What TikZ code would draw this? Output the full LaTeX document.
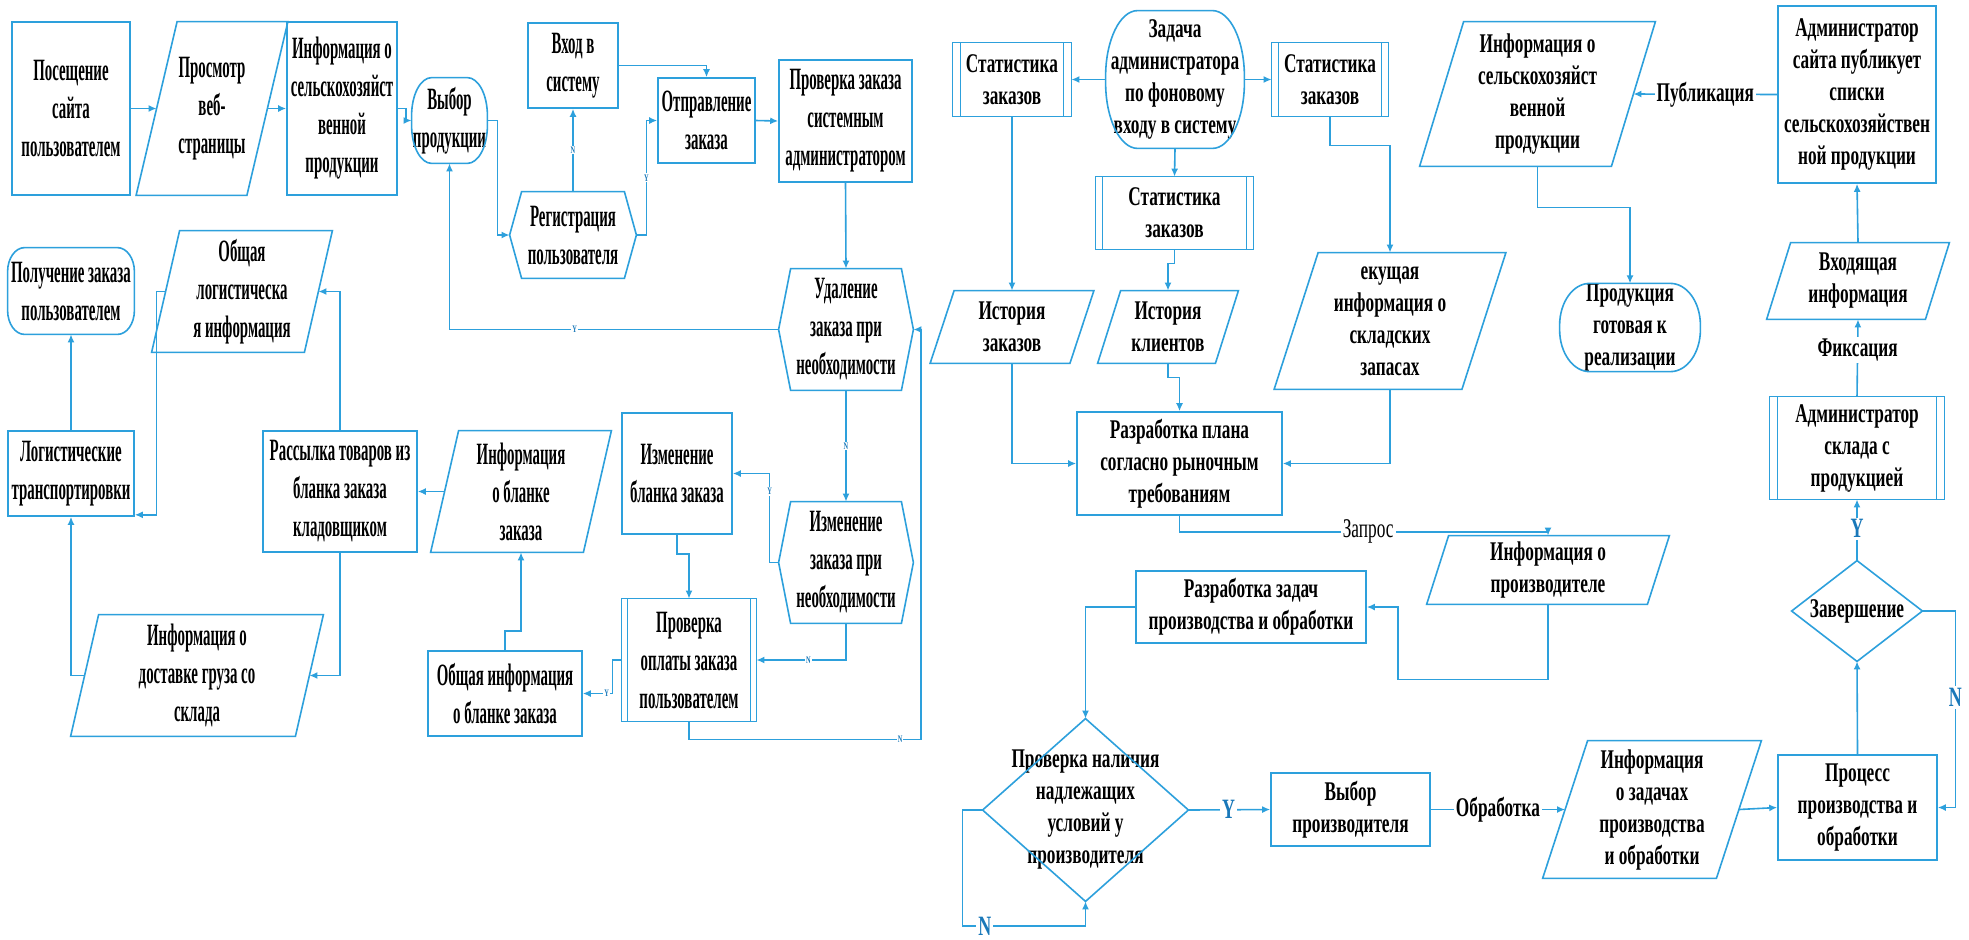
\documentclass[tikz,border=0pt]{standalone}
\usepackage{fontspec}
\setmainfont{Liberation Serif}
\newfontfamily\LF[FakeStretch=0.48]{Liberation Serif}
\newfontfamily\RF[FakeStretch=0.64]{Liberation Serif}
\usetikzlibrary{arrows.meta}
\definecolor{lc}{RGB}{45,160,220}
\definecolor{ynblue}{RGB}{25,120,185}
\tikzset{
  shp/.style={draw=lc, line width=0.8pt},
  bx/.style={draw=lc, line width=0.8pt},
  L/.style={align=center, inner sep=0pt, font=\LF\bfseries\fontsize{15.5}{19}\selectfont},
  R/.style={align=center, inner sep=0pt, font=\RF\bfseries\fontsize{13.5}{16}\selectfont},
  sz/.style 2 args={minimum width=#1*0.5pt, minimum height=#2*0.5pt},
  ar/.style={draw=lc, line width=0.8pt, -{Latex[length=4pt,width=3.5pt]}},
  ln/.style={draw=lc, line width=0.8pt},
  yn/.style={text=ynblue, font=\RF\bfseries\fontsize{14}{14}\selectfont, fill=white, inner sep=1pt},
  yns/.style={text=ynblue, font=\RF\bfseries\fontsize{5}{5}\selectfont, fill=white, inner sep=0.5pt},
  lbl/.style={fill=white, inner sep=1pt, font=\RF\bfseries\fontsize{13.5}{16}\selectfont},
  lblr/.style={fill=white, inner sep=1pt, font=\RF\fontsize{13.5}{16}\selectfont},
}
\newcommand\paraline[2]{\draw[shp] ([xshift=-#2]#1.south west) -- ([xshift=#2]#1.north west) -- ([xshift=#2]#1.north east) -- ([xshift=-#2]#1.south east) -- cycle;}
\newcommand\hexline[2]{\draw[shp] (#1.west) -- ([xshift=#2]#1.north west) -- ([xshift=-#2]#1.north east) -- (#1.east) -- ([xshift=-#2]#1.south east) -- ([xshift=#2]#1.south west) -- cycle;}
\newcommand\subline[2]{\draw[shp] (#1.south west) rectangle (#1.north east); \draw[shp] ([xshift=#2]#1.north west) -- ([xshift=#2]#1.south west) ([xshift=-#2]#1.north east) -- ([xshift=-#2]#1.south east);}
\newcommand\diamline[1]{\draw[shp] (#1.north) -- (#1.east) -- (#1.south) -- (#1.west) -- cycle;}
\newcommand\roundline[3]{\draw[shp] ([xshift=#2]#1.north west) -- ([xshift=-#2]#1.north east) arc[start angle=90,end angle=0,x radius=#2,y radius=#3] -- ([yshift=#3]#1.south east) arc[start angle=0,end angle=-90,x radius=#2,y radius=#3] -- ([xshift=#2]#1.south west) arc[start angle=270,end angle=180,x radius=#2,y radius=#3] -- ([yshift=-#3]#1.north west) arc[start angle=180,end angle=90,x radius=#2,y radius=#3] -- cycle;}
\begin{document}
\begin{tikzpicture}[x=0.5pt, y=-0.5pt]
\fill[white] (0,0) rectangle (1969,939);
\useasboundingbox (0,0) rectangle (1969,939);

% ---------------- left part ----------------
\node[L, bx, sz={118}{173}] (p1) at (71,108.5) {Посещение\\сайта\\пользователем};
\node[L, sz={110}{173}] (p2) at (212,108.5) {Просмотр\\веб-\\страницы};
\paraline{p2}{10.25pt}
\node[L, bx, sz={110}{173}] (p3) at (342,108.5) {Информация о\\сельскохозяйст\\венной\\продукции};
\node[L, sz={75}{85}] (p4) at (449.5,120.5) {Выбор\\продукции};
\roundline{p4}{10pt}{19pt}
\node[L, bx, sz={90}{85}] (p5) at (573,65.5) {Вход в\\систему};
\node[L, sz={126}{86}] (p6) at (573,235) {Регистрация\\пользователя};
\hexline{p6}{6pt}
\node[L, bx, sz={97}{85}] (p7) at (706.5,120.5) {Отправление\\заказа};
\node[L, bx, sz={133}{122}] (p8) at (845.5,121) {Проверка заказа\\системным\\администратором};
\node[L, sz={134}{121}] (p9) at (846,329.5) {Удаление\\заказа при\\необходимости};
\hexline{p9}{6pt}
\node[L, sz={134}{121}] (p10) at (846,562.5) {Изменение\\заказа при\\необходимости};
\hexline{p10}{6pt}
\node[L, bx, sz={110}{121}] (p11) at (677,473.5) {Изменение\\бланка заказа};
\node[L, sz={134}{122}] (p12) at (689,660) {Проверка\\оплаты заказа\\пользователем};
\subline{p12}{3pt}
\node[L, bx, sz={154}{85}] (p13) at (505,693.5) {Общая информация\\о бланке заказа};
\node[L, sz={152}{121}] (p14) at (521,491.5) {Информация\\о бланке\\заказа};
\paraline{p14}{7pt}
\node[L, bx, sz={154}{121}] (p15) at (340,491.5) {Рассылка товаров из\\бланка заказа\\кладовщиком};
\node[L, sz={152}{121}] (p16) at (242,291.5) {Общая\\логистическа\\я информация};
\paraline{p16}{7pt}
\node[L, sz={126}{86}] (p17) at (71,291) {Получение заказа\\пользователем};
\roundline{p17}{8.5pt}{12pt}
\node[L, bx, sz={126}{85}] (p18) at (71,473.5) {Логистические\\транспортировки};
\node[L, sz={224}{121}] (p19) at (197,675.5) {Информация о\\доставке груза со\\склада};
\paraline{p19}{7pt}

% left connectors
\draw[ar] (p1.east) -- (p2.west);
\draw[ar] (p2.east) -- (p3.west);
\draw[ar] (p3.east) -- ++(8,0) |- (p4.west);
\draw[ar] (p4.east) -- ++(10,0) |- (p6.west);
\draw[ar] (p6.north) -- node[yns]{N} (p5.south);
\draw[ar] (p6.east) -- ++(10,0) |- node[yns, pos=0.25]{Y} (p7.west);
\draw[ar] (p5.east) -| (p7.north);
\draw[ar] (p7.east) -- (p8.west);
\draw[ar] (p8.south) -- (p9.north);
\draw[ar] (p9.west) -| node[yns, pos=0.31]{Y} (p4.south);
\draw[ar] (p9.south) -- node[yns]{N} (p10.north);
\draw[ar] (p10.west) -- ++(-9,0) |- node[yns, pos=0.4]{Y} (p11.east);
\draw[ar] (p10.south) |- node[yns, pos=0.71]{N} (p12.east);
\draw[ar] (p11.south) -- ++(0,19) -| (p12.north);
\draw[ar] (p12.west) -- ++(-9,0) |- node[yns, pos=0.6]{Y} (p13.east);
\draw[ar] (p13.north) -- ++(0,-19) -| (p14.south);
\draw[ar] (p14.west) -- (p15.east);
\draw[ar] (p15.north) |- (p16.east);
\draw[ar] (p16.west) -- ++(-9,0) |- ([yshift=1pt]p18.south east);
\draw[ar] (p18.north) -- (p17.south);
\draw[ar] (p15.south) |- (p19.east);
\draw[ar] (p19.west) -| (p18.south);
\draw[ar] (p12.south) -- ++(0,18) -- node[yns, pos=0.91]{N} ++(232,0) |- (p9.east);

% ---------------- right part ----------------
\node[R, sz={118}{73}] (q1) at (1012,79.5) {Статистика\\заказов};
\subline{q1}{4pt}
\node[R, sz={138}{137}] (q2) at (1175,79.5) {Задача\\администратора\\по фоновому\\входу в систему};
\roundline{q2}{16pt}{33pt}
\node[R, sz={116}{73}] (q3) at (1330,79.5) {Статистика\\заказов};
\subline{q3}{3.5pt}
\node[R, sz={157}{72}] (q4) at (1174.5,213) {Статистика\\заказов};
\subline{q4}{3.5pt}
\node[R, sz={139}{72}] (q5) at (1012,327) {История\\заказов};
\paraline{q5}{6pt}
\node[R, sz={117}{72}] (q6) at (1168,327) {История\\клиентов};
\paraline{q6}{5.75pt}
\node[R, sz={187}{136}] (q7) at (1390,321) {екущая\\информация о\\складских\\запасах};
\paraline{q7}{11pt}
\node[R, bx, sz={205}{103}] (q8) at (1179.5,463.5) {Разработка плана\\согласно рыночным\\требованиям};
\node[R, sz={191}{144}] (q9) at (1537.5,94) {Информация о\\сельскохозяйст\\венной\\продукции};
\paraline{q9}{11pt}
\node[R, bx, sz={158}{177}] (q10) at (1857,94.5) {Администратор\\сайта публикует\\списки\\сельскохозяйствен\\ной продукции};
\node[R, sz={140}{87}] (q11) at (1630,327.5) {Продукция\\готовая к\\реализации};
\roundline{q11}{15pt}{21pt}
\node[R, sz={158}{76}] (q12) at (1858,281) {Входящая\\информация};
\paraline{q12}{6pt}
\node[R, sz={174}{102}] (q13) at (1857,448) {Администратор\\склада с\\продукцией};
\subline{q13}{4pt}
\node[R, sz={130}{100}] (q14) at (1857,611) {Завершение};
\diamline{q14}
\node[R, bx, sz={159}{105}] (q15) at (1857.5,807.5) {Процесс\\производства и\\обработки};
\node[R, sz={220}{68}] (q16) at (1548,570) {Информация о\\производителе};
\paraline{q16}{5.5pt}
\node[R, bx, sz={230}{72}] (q17) at (1251,607) {Разработка задач\\производства и обработки};
\node[R, sz={205}{182}] (q18) at (1085.5,810) {Проверка наличия\\надлежащих\\условий у\\производителя};
\diamline{q18}
\node[R, bx, sz={159}{73}] (q19) at (1350.5,809.5) {Выбор\\производителя};
\node[R, sz={173}{137}] (q20) at (1652,809.5) {Информация\\о задачах\\производства\\и обработки};
\paraline{q20}{11.25pt}

% right connectors
\draw[ar] (q2.west) -- (q1.east);
\draw[ar] (q2.east) -- (q3.west);
\draw[ar] (q2.south) -- (q4.north);
\draw[ar] (q1.south) -- (q5.north);
\draw[ar] (q4.south) -- ++(0,14) -| (q6.north);
\draw[ar] (q3.south) -- ++(0,29) -| (q7.north);
\draw[ar] (q5.south) |- (q8.west);
\draw[ar] (q6.south) -- ++(0,14) -| (q8.north);
\draw[ar] (q7.south) |- (q8.east);
\draw[ar] (q8.south) -- ++(0,16) -| node[lblr, pos=0.256]{Запрос} (q16.north);
\draw[ar] (q16.south) -- ++(0,75) -- ++(-150,0) |- (q17.east);
\draw[ar] (q17.west) -| (q18.north);
\draw[ar] (q18.east) -- node[yn, pos=0.49]{Y} (q19.west);
\draw[ar] (q18.west) -- ++(-20,0) -- ++(0,116) -| node[yn, pos=0.09]{N} (q18.south);
\draw[ar] (q19.east) -- node[lbl]{Обработка} (q20.west);
\draw[ar] (q20.east) -- (q15.west);
\draw[ar] (q15.north) -- (q14.south);
\draw[ar] (q14.east) -- ++(33,0) |- node[yn, pos=0.22]{N} (q15.east);
\draw[ar] (q14.north) -- node[yn, pos=0.52]{Y} (q13.south);
\draw[ar] (q13.north) -- node[lbl, pos=0.6]{Фиксация} (q12.south);
\draw[ar] (q12.north) -- (q10.south);
\draw[ar] (q10.west) -- node[lbl]{Публикация} (q9.east);
\draw[ar] (q9.south) -- ++(0,41) -| (q11.north);
\end{tikzpicture}
\end{document}
